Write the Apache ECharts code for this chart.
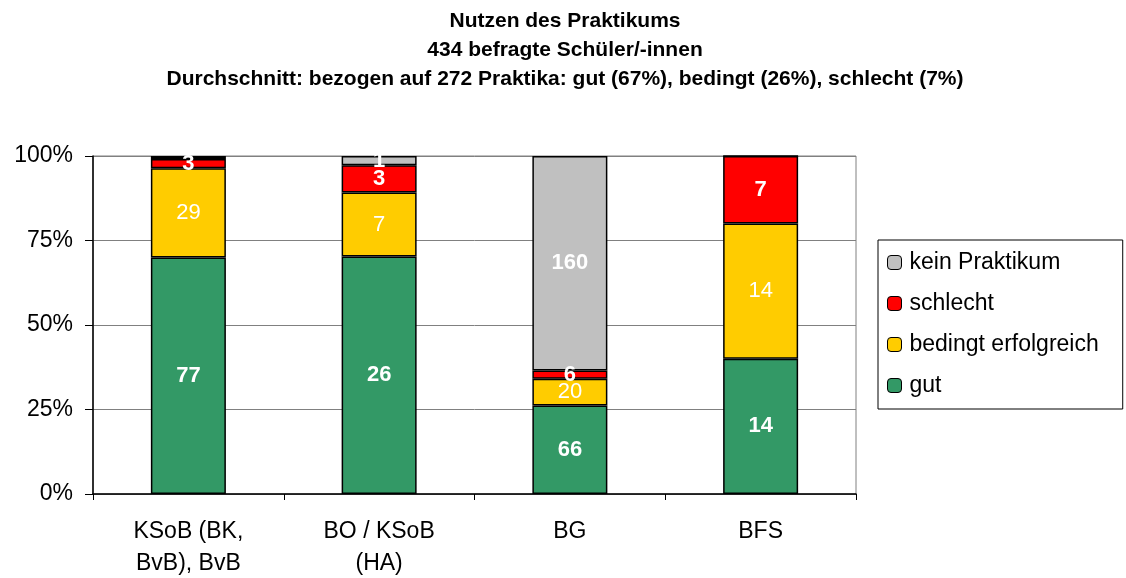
<!DOCTYPE html>
<html>
<head>
<meta charset="utf-8">
<script src="https://cdn.jsdelivr.net/npm/echarts@6/dist/echarts.min.js"></script>
<style>
  html, body { margin: 0; padding: 0; background: #fff; }
  #chart { width: 1126px; height: 578px; }
</style>
</head>
<body>
<div id="chart"></div>
<script>
// Kategorien (Schulformen)
var categories = ["KSoB (BK,\nBvB), BvB", "BO / KSoB\n(HA)", "BG", "BFS"];
// Anzahl Nennungen je Kategorie
var gut = [77, 26, 66, 14];
var bedingt = [29, 7, 20, 14];
var schlecht = [3, 3, 6, 7];
var keinPraktikum = [1, 1, 160, 0];
var yTicks = [0, 25, 50, 75, 100];

var totals = categories.map(function (c, i) {
  return gut[i] + bedingt[i] + schlecht[i] + keinPraktikum[i];
});

// Prozentwerte fuer die gestapelten Balken, Label = absolute Zahl
function toPercent(arr, hideIdx) {
  return arr.map(function (v, i) {
    var item = { value: (v / totals[i]) * 100, count: v };
    if (v === 0 || (hideIdx && hideIdx.indexOf(i) >= 0)) {
      item.label = { show: false };
    }
    return item;
  });
}

var border = { borderColor: "#000", borderWidth: 1.5 };

function makeSeries(name, arr, color, bold, hideIdx) {
  return {
    name: name,
    type: "bar",
    stack: "total",
    barWidth: 75,
    data: toPercent(arr, hideIdx),
    itemStyle: Object.assign({ color: color }, border),
    label: {
      show: true,
      position: "inside",
      color: "#fff",
      fontFamily: "Liberation Sans, Arial",
      fontSize: 22,
      fontWeight: bold ? "bold" : "normal",
      formatter: function (p) { return p.data.count; }
    }
  };
}

var chart = echarts.init(document.getElementById("chart"));
var option = {
  animation: false,
  textStyle: { fontFamily: "Liberation Sans, Arial" },
  title: {
    text: "Nutzen des Praktikums\n434 befragte Schüler/-innen\nDurchschnitt: bezogen auf 272 Praktika: gut (67%), bedingt (26%), schlecht (7%)",
    left: 560,
    textAlign: "center",
    top: 2,
    textStyle: {
      fontFamily: "Liberation Sans, Arial",
      fontSize: 21,
      fontWeight: "bold",
      color: "#000",
      lineHeight: 29
    }
  },
  grid: {
    left: 93,
    right: 270,
    top: 156,
    bottom: 84,
    outerBoundsMode: "none",
    containLabel: false,
    show: true,
    borderColor: "#808080",
    borderWidth: 1
  },
  legend: {
    orient: "vertical",
    left: 878,
    top: 240,
    data: ["kein Praktikum", "schlecht", "bedingt erfolgreich", "gut"],
    itemWidth: 14,
    itemHeight: 14,
    itemGap: 18,
    padding: [11, 24, 12, 9],
    borderColor: "#000",
    borderWidth: 1,
    textStyle: { fontSize: 23, color: "#000", fontFamily: "Liberation Sans, Arial", padding: [0, 0, 0, 3] },
    itemStyle: { borderColor: "#000", borderWidth: 1 }
  },
  xAxis: {
    type: "category",
    data: categories,
    axisLine: { lineStyle: { color: "#000", width: 1.5 } },
    axisTick: { show: true, alignWithLabel: false, length: 6, lineStyle: { color: "#000" } },
    axisLabel: {
      color: "#000",
      fontSize: 23,
      lineHeight: 32,
      margin: 22,
      fontFamily: "Liberation Sans, Arial"
    }
  },
  yAxis: {
    type: "value",
    min: 0,
    max: 100,
    interval: 25,
    axisLine: { show: true, lineStyle: { color: "#000", width: 1.5 } },
    axisTick: { show: true, length: 8, lineStyle: { color: "#000" } },
    splitLine: { lineStyle: { color: "#808080", width: 1 } },
    axisLabel: {
      color: "#000",
      fontSize: 23,
      margin: 20,
      fontFamily: "Liberation Sans, Arial",
      formatter: function (v) { return yTicks.indexOf(v) >= 0 ? v + "%" : ""; }
    }
  },
  series: [
    makeSeries("gut", gut, "#339966", true),
    makeSeries("bedingt erfolgreich", bedingt, "#FFCC00", false),
    makeSeries("schlecht", schlecht, "#FF0000", true),
    makeSeries("kein Praktikum", keinPraktikum, "#C0C0C0", true, [0])
  ]
};
chart.setOption(option);
window.onresize = function () { chart.resize(); };
</script>
</body>
</html>
